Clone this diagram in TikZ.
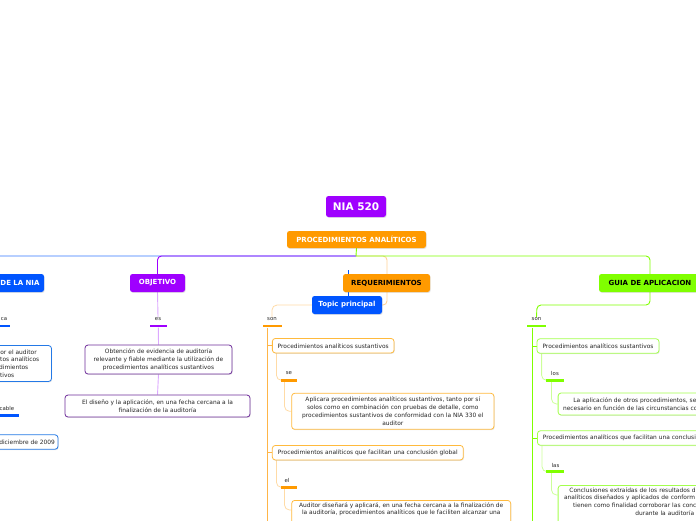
\documentclass[tikz,border=0pt]{standalone}
\usepackage{fontspec}
\setmainfont{DejaVu Sans}
\usetikzlibrary{shadows,calc}
\definecolor{cPurple}{HTML}{9F00FF}
\definecolor{cOrange}{HTML}{FF9A00}
\definecolor{cBlue}{HTML}{0055FF}
\definecolor{cGreen}{HTML}{80FF00}
\definecolor{bPurple}{HTML}{6E2D9A}
\definecolor{bOrange}{HTML}{FFBA3D}
\definecolor{bBlue}{HTML}{2479E6}
\definecolor{bGreen}{HTML}{A3FF4D}
\definecolor{lPurple}{HTML}{DCA8FF}
\definecolor{lOrange}{HTML}{FFDBA6}
\definecolor{mOrange}{HTML}{FFB547}
\definecolor{lGreen}{HTML}{CCFF99}
\definecolor{txt}{HTML}{262626}
\newcommand\padR[1]{\hbox to #1{}}
\pgfdeclarelayer{bg}
\pgfsetlayers{bg,main}
\tikzset{
  shad/.style={drop shadow={shadow xshift=0.7pt,shadow yshift=-0.9pt,opacity=0.22}},
  title/.style={rounded corners=2.5pt, inner sep=0pt, shad,
    font=\fontsize{7}{8}\selectfont\bfseries, text=white, minimum height=18pt},
  sub/.style={draw, fill=white, rounded corners=3pt, line width=0.8pt, inner xsep=4pt,
    inner ysep=2pt, font=\fontsize{5.9}{7.8}\selectfont, text=txt, align=center, shad},
  lbl/.style={font=\fontsize{5.4}{6}\selectfont, text=txt, inner sep=0.5pt},
  barn/.style={rectangle, inner sep=0pt, minimum height=2.6pt, draw=none},
  conn/.style={line width=0.9pt},
  thin/.style={line width=0.8pt, rounded corners=5pt}
}
\begin{document}
\begin{tikzpicture}[x=1pt,y=-1pt]
\useasboundingbox (0,0) rectangle (696,520);
\clip (0,0) rectangle (696,520);

% ---- top level
\node[title, fill=cPurple, minimum width=60pt, minimum height=21pt,
  font=\fontsize{10.5}{12}\selectfont\bfseries] (nia) at (356,206.5) {NIA 520};
\node[title, fill=cOrange, minimum width=139pt, minimum height=17pt] (pa) at (356.5,239.5) {PROCEDIMIENTOS ANALÍTICOS};
\node[title, fill=cBlue, minimum width=64pt, text width=55pt, align=right] (alc) at (12,283) {DE LA NIA};
\node[title, fill=cPurple, minimum width=55pt] (obj) at (157.5,283) {OBJETIVO};
\node[title, fill=cOrange, text=black, minimum width=87pt] (req) at (386.5,283) {REQUERIMIENTOS};
\node[title, fill=cGreen, text=black, minimum width=102pt] (guia) at (650,283) {GUIA DE APLICACION};
\node[title, fill=cBlue, minimum width=70pt] (topic) at (347,305) {Topic principal};

\coordinate (j) at (356,256);
\coordinate (reqtop) at (348,270);

% ---- left section
\node[lbl, anchor=west] (ca) at (0.3,319) {ca};
\node[barn, fill=cBlue, minimum width=19pt] (cabar) at (0.5,326) {};
\node[sub, draw=bBlue, minimum width=91.5pt, minimum height=36pt, inner xsep=12.2pt,
  text width=67.1pt, align=right] (l1) at (5.75,363.5)
  {or el auditor\padR{2.6pt}\\tos analíticos\\dimientos\padR{11pt}\\tivos\padR{25pt}};
\node[lbl, anchor=east] (cable) at (14.8,408) {cable};
\node[barn, fill=cBlue, minimum width=39pt] (cablebar) at (-0.5,415.5) {};
\node[sub, draw=bBlue, minimum width=68pt, minimum height=14.5pt, inner xsep=3pt,
  text width=62pt, align=right] (l2) at (24,442) {diciembre de 2009};

% ---- objetivo section
\node[lbl] (es) at (158,319) {es};
\node[barn, fill=cPurple, minimum width=17.5pt] (esbar) at (158.3,326) {};
\node[sub, draw=bPurple, minimum width=147pt, minimum height=29pt] (o1) at (158.5,359.5)
  {Obtención de evidencia de auditoría\\relevante y fiable mediante la utilización de\\procedimientos analíticos sustantivos};
\node[sub, draw=bPurple, minimum width=185pt, minimum height=22pt] (o2) at (157.5,406)
  {El diseño y la aplicación, en una fecha cercana a la\\finalización de la auditoría};

% ---- requerimientos section
\node[lbl] (son1) at (272,319.5) {son};
\node[barn, fill=cOrange, minimum width=19pt] (son1bar) at (272,326) {};
\coordinate (rend) at (267,530);
\node[sub, draw=bOrange, minimum width=121.7pt, minimum height=14.5pt] (r1) at (333.2,345.7)
  {Procedimientos analíticos sustantivos};
\node[lbl] (se) at (289,373) {se};
\node[barn, fill=cOrange, minimum width=16pt] (sebar) at (288.7,380.3) {};
\node[sub, draw=bOrange, minimum width=202.3pt, minimum height=36pt] (r2) at (392.8,411.3)
  {Aplicara procedimientos analíticos sustantivos, tanto por sí\\solos como en combinación con pruebas de detalle, como\\procedimientos sustantivos de conformidad con la NIA 330 el\\auditor};
\node[sub, draw=bOrange, minimum width=191pt, minimum height=14.5pt] (r3) at (367.8,452.7)
  {Procedimientos analíticos que facilitan una conclusión global};
\node[lbl] (el) at (287,480) {el};
\node[barn, fill=cOrange, minimum width=16pt] (elbar) at (288.7,487.3) {};
\node[sub, draw=bOrange, minimum width=219pt, anchor=north] (r4) at (401.2,500)
  {Auditor diseñará y aplicará, en una fecha cercana a la finalización de\\la auditoría, procedimientos analíticos que le faciliten alcanzar una\\ \mbox{}\\ \mbox{}};

% ---- guia section
\node[lbl] (son2) at (536.5,319.5) {son};
\node[barn, fill=cGreen, minimum width=19pt] (son2bar) at (536.5,326) {};
\coordinate (gend) at (532,530);
\node[sub, draw=bGreen, minimum width=122pt, minimum height=14.5pt] (g1) at (598,346)
  {Procedimientos analíticos sustantivos};
\node[lbl] (los) at (555,373.5) {los};
\node[barn, fill=cGreen, minimum width=18pt] (losbar) at (555,380.3) {};
\node[sub, draw=bGreen, anchor=west, minimum height=22pt, inner xsep=5pt, text width=190pt, align=left] (g2) at (557.7,404)
  {\hspace*{10.3pt}La aplicación de otros procedimientos, se\\necesario en función de las circunstancias co};
\node[sub, draw=bGreen, anchor=west, minimum height=14.5pt, inner xsep=5.5pt, text width=190pt, align=left] (g3) at (537,438)
  {Procedimientos analíticos que facilitan una conclusi};
\node[lbl] (las) at (555.5,465) {las};
\node[barn, fill=cGreen, minimum width=18pt] (lasbar) at (555,471.7) {};
\node[sub, draw=bGreen, anchor=north west, inner xsep=6pt, text width=190pt, align=left] (g4) at (557.7,485)
  {\hspace*{5.3pt}Conclusiones extraídas de los resultados d\\analíticos diseñados y aplicados de conform\\\hspace*{9pt}tienen como finalidad corroborar las conc\\\hspace*{71.3pt}durante la auditoría\\ \mbox{}};

% ---- connectors
\begin{pgfonlayer}{bg}
  \draw[conn, cBlue!80, rounded corners=4pt] (j) -| ($(alc.north)+(-20,0)$);
  \draw[conn, lOrange!90!orange, rounded corners=4pt] (j) -- (387,256) -- (387,305) -- (topic.east);
  \draw[conn, cPurple, rounded corners=4pt] (j) -| (obj.north);
  \draw[conn, cGreen] (pa.south) -- (j);
  \draw[conn, cGreen, rounded corners=4pt] (j) -| (guia.north);
  \draw[line width=0.8pt, cBlue] (reqtop) -- (topic.north -| reqtop);

  % objetivo
  \draw[conn, lPurple] (obj.south) -- (es.north);
  \draw[conn, lPurple] (esbar.south) -- (o1.north);
  \draw[conn, lPurple] (o1.south) -- (o2.north);

  % requerimientos
  \draw[thin, lOrange] (topic.west) -| (son1.north);
  \draw[conn, mOrange] (son1bar.south -| rend) -- (rend);
  \draw[conn, mOrange] (r1.west -| rend) -- (r1.west);
  \draw[conn, mOrange] (r3.west -| rend) -- (r3.west);
  \draw[thin, lOrange] ($(r1.south west)+(4.5,0)$) |- (sebar.west);
  \draw[thin, lOrange] ($(sebar.south west)+(4,0)$) |- (r2.west);
  \draw[thin, lOrange] ($(r3.south west)+(4.5,0)$) |- (elbar.west);
  \draw[thin, lOrange] ($(elbar.south west)+(4,0)$) |- ($(r4.north west)+(0,10)$);

  % guia
  \draw[conn, cGreen, rounded corners=4pt] (guia.south) -- (650,305) -- (537,305) -- (son2.north);
  \draw[conn, cGreen] (son2bar.south -| gend) -- (gend);
  \draw[conn, cGreen] (g1.west -| gend) -- (g1.west);
  \draw[conn, cGreen] (g3.west -| gend) -- (g3.west);
  \draw[thin, lGreen] ($(g1.south west)+(5,0)$) |- (losbar.west);
  \draw[thin, lGreen] ($(losbar.south west)+(5.7,0)$) |- (g2.west);
  \draw[thin, lGreen] ($(g3.south west)+(5,0)$) |- (lasbar.west);
  \draw[thin, lGreen] ($(lasbar.south west)+(5.7,0)$) |- ($(g4.north west)+(0,10)$);
\end{pgfonlayer}
\end{tikzpicture}
\end{document}
